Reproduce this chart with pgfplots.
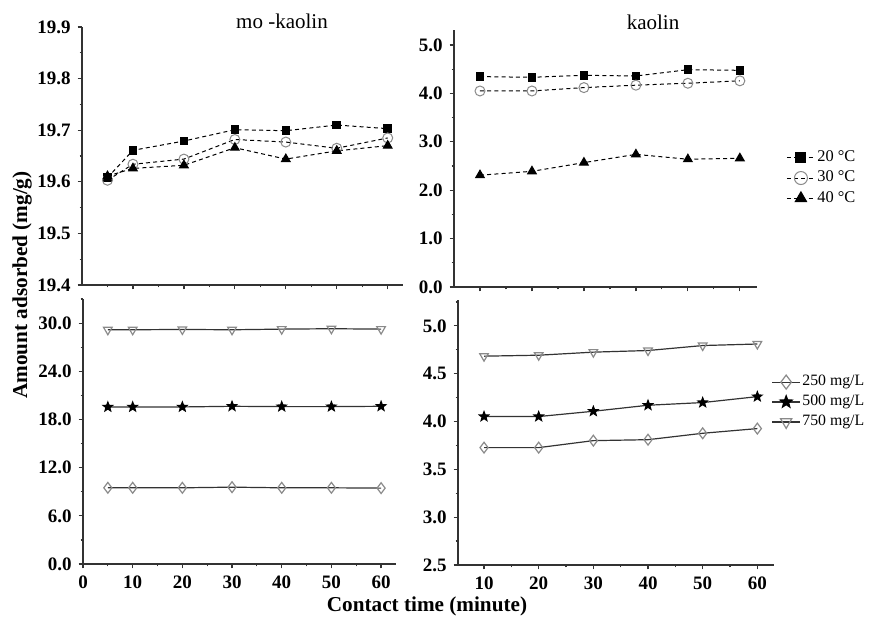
\documentclass[border=0pt]{standalone}
\usepackage{fontspec}
\setmainfont{Liberation Serif}
\usepackage{pgfplots}
\pgfplotsset{compat=1.18}
\usetikzlibrary{plotmarks}

\pgfdeclareplotmark{fstar}{%
  \pgfpathmoveto{\pgfpointpolar{90}{\pgfplotmarksize}}%
  \pgfpathlineto{\pgfpointpolar{126}{0.42\pgfplotmarksize}}%
  \pgfpathlineto{\pgfpointpolar{162}{\pgfplotmarksize}}%
  \pgfpathlineto{\pgfpointpolar{198}{0.42\pgfplotmarksize}}%
  \pgfpathlineto{\pgfpointpolar{234}{\pgfplotmarksize}}%
  \pgfpathlineto{\pgfpointpolar{270}{0.42\pgfplotmarksize}}%
  \pgfpathlineto{\pgfpointpolar{306}{\pgfplotmarksize}}%
  \pgfpathlineto{\pgfpointpolar{342}{0.42\pgfplotmarksize}}%
  \pgfpathlineto{\pgfpointpolar{18}{\pgfplotmarksize}}%
  \pgfpathlineto{\pgfpointpolar{54}{0.42\pgfplotmarksize}}%
  \pgfpathclose
  \pgfusepathqfillstroke}

\definecolor{axgray}{HTML}{333333}
\definecolor{mkgray}{HTML}{8A8A8A}

\pgfplotsset{
  panel/.style={
    scale only axis,
    anchor=south west,
    axis x line=bottom, axis y line=left,
    axis line style={-, draw=axgray, line width=0.7pt},
    tick align=outside,
    major tick length=2.2pt, minor tick length=1.2pt,
    every tick/.style={draw=axgray, line width=0.6pt},
    tick label style={font=\fontsize{9.5}{10}\selectfont\bfseries},
    /pgf/number format/assume math mode=true,
    clip=false,
  },
  yfmt/.style={yticklabel style={/pgf/number format/.cd, fixed, fixed zerofill, precision=1}},
  temp/.style={black, line width=0.5pt, dash pattern=on 2pt off 1.6pt},
  conc/.style={axgray, line width=0.6pt, solid},
  legend image code/.code={\draw[mark repeat=2,mark phase=2,#1,every mark/.append style={scale=1.3}] plot coordinates {(0pt,0pt)(7pt,0pt)(14pt,0pt)};},
}

\begin{document}
\begin{tikzpicture}
\useasboundingbox (0,0) rectangle (435.5pt,308.5pt);

% ---------- top-left: mo-kaolin, temperature ----------
\begin{axis}[panel, yfmt,
  at={(41pt,166pt)}, width=160.5pt, height=129pt,
  xmin=0, xmax=63, ymin=19.4, ymax=19.9,
  xtick={10,20,...,60}, minor xtick={5,15,...,55}, xticklabels={},
  ytick={19.4,19.5,...,19.9}, minor ytick={19.45,19.55,...,19.85},
]
\addplot[temp, mark=square*, mark size=1.9pt, mark options={solid, fill=black}] coordinates {
(5,19.608) (10,19.661) (20,19.679) (30,19.701) (40,19.699) (50,19.710) (60,19.703)};
\addplot[temp, mark=o, mark size=2.5pt, mark options={solid, draw=mkgray, fill=white}] coordinates {
(5,19.603) (10,19.634) (20,19.644) (30,19.682) (40,19.677) (50,19.665) (60,19.685)};
\addplot[temp, mark=triangle*, mark size=2.5pt, mark options={solid, fill=black}] coordinates {
(5,19.611) (10,19.626) (20,19.632) (30,19.666) (40,19.644) (50,19.660) (60,19.670)};
\end{axis}

% ---------- top-right: kaolin, temperature ----------
\begin{axis}[panel, yfmt,
  at={(227pt,165pt)}, width=151.5pt, height=128.5pt,
  xmin=5, xmax=63.3, ymin=0, ymax=5.31,
  xtick={10,20,...,60}, minor xtick={15,25,...,55}, xticklabels={},
  ytick={0,1,...,5}, minor ytick={0.5,1.5,...,4.5},
  legend style={at={(1.076,0.424)}, anchor=west, draw=none, fill=none,
    font=\fontsize{8.2}{9}\selectfont, row sep=1.2pt,
    nodes={inner sep=1pt}},
  legend cell align=left,
]
\addplot[temp, mark=square*, mark size=1.9pt, mark options={solid, fill=black}] coordinates {
(10,4.347) (20,4.333) (30,4.374) (40,4.360) (50,4.490) (60,4.477)};
\addlegendentry{20 °C}
\addplot[temp, mark=o, mark size=2.5pt, mark options={solid, draw=mkgray, fill=white}] coordinates {
(10,4.050) (20,4.050) (30,4.120) (40,4.170) (50,4.210) (60,4.260)};
\addlegendentry{30 °C}
\addplot[temp, mark=triangle*, mark size=2.5pt, mark options={solid, fill=black}] coordinates {
(10,2.31) (20,2.39) (30,2.57) (40,2.74) (50,2.64) (60,2.66)};
\addlegendentry{40 °C}
\end{axis}

% ---------- bottom-left: mo-kaolin, concentration ----------
\begin{axis}[panel, yfmt,
  at={(41.5pt,26.5pt)}, width=156.5pt, height=132.5pt,
  xmin=0, xmax=63, ymin=0, ymax=33,
  xtick={0,10,...,60}, minor xtick={5,15,...,55},
  ytick={0,6,...,30}, minor ytick={3,9,...,33},
]
\addplot[conc, mark=triangle, mark size=2.5pt, mark options={solid, rotate=180, draw=mkgray, fill=white}] coordinates {
(5,29.17) (10,29.17) (20,29.21) (30,29.17) (40,29.25) (50,29.30) (60,29.25)};
\addplot[conc, mark=fstar, mark size=2.4pt, mark options={solid, fill=black, draw=black}] coordinates {
(5,19.56) (10,19.56) (20,19.56) (30,19.64) (40,19.60) (50,19.60) (60,19.64)};
\addplot[conc, mark=diamond, mark size=2.7pt, mark options={solid, draw=mkgray, fill=white}] coordinates {
(5,9.49) (10,9.49) (20,9.49) (30,9.57) (40,9.49) (50,9.49) (60,9.45)};
\end{axis}

% ---------- bottom-right: kaolin, concentration ----------
\begin{axis}[panel,
  yticklabel style={/pgf/number format/.cd, fixed, fixed zerofill, precision=1},
  at={(229pt,26pt)}, width=158pt, height=132.5pt,
  xmin=5.24, xmax=63.05, ymin=2.5, ymax=5.27,
  xtick={10,20,...,60}, minor xtick={15,25,...,55},
  ytick={2.5,3.0,...,5.0}, minor ytick={2.75,3.25,...,5.25},
  legend style={at={(0.972,0.615)}, anchor=west, draw=none, fill=none,
    font=\fontsize{7.9}{9}\selectfont, row sep=1.6pt,
    nodes={inner sep=0.8pt}},
  legend cell align=left,
]
\addplot[conc, mark=diamond, mark size=2.7pt, mark options={solid, draw=mkgray, fill=white}] coordinates {
(10,3.727) (20,3.727) (30,3.800) (40,3.810) (50,3.877) (60,3.926)};
\addlegendentry{250 mg/L}
\addplot[conc, mark=fstar, mark size=2.4pt, mark options={solid, fill=black, draw=black}] coordinates {
(10,4.052) (20,4.052) (30,4.107) (40,4.170) (50,4.198) (60,4.260)};
\addlegendentry{500 mg/L}
\addplot[conc, mark=triangle, mark size=2.5pt, mark options={solid, rotate=180, draw=mkgray, fill=white}] coordinates {
(10,4.683) (20,4.693) (30,4.725) (40,4.742) (50,4.794) (60,4.810)};
\addlegendentry{750 mg/L}
\end{axis}

% ---------- titles and shared labels ----------
\node[font=\fontsize{10.5}{12}\selectfont] at (141pt,298pt) {mo -kaolin};
\node[font=\fontsize{10.5}{12}\selectfont] at (326.5pt,297.5pt) {kaolin};
\node[font=\fontsize{10.6}{12}\selectfont\bfseries] at (213.5pt,5.5pt) {Contact time (minute)};
\node[font=\fontsize{10.6}{12}\selectfont\bfseries, rotate=90] at (11pt,166pt) {Amount adsorbed (mg/g)};
\end{tikzpicture}
\end{document}
